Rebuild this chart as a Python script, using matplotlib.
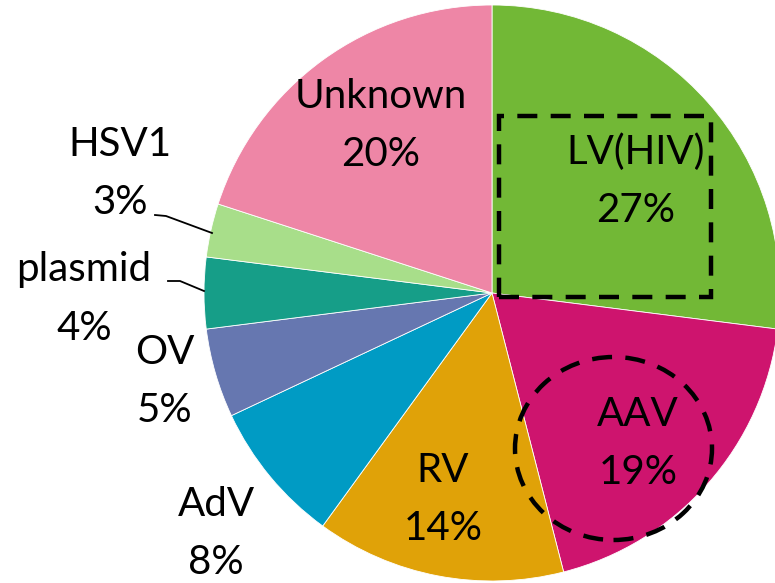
import matplotlib.pyplot as plt
from matplotlib.patches import Rectangle, Ellipse

# vector types, clockwise from 12 o'clock
labels = ['LV(HIV)', 'AAV', 'RV', 'AdV', 'OV', 'plasmid', 'HSV1', 'Unknown']
shares = [27, 19, 14, 8, 5, 4, 3, 20]
colors = ['#72B836', '#CE146E', '#E0A208', '#009BC4',
          '#6677B0', '#169E88', '#A8DE8A', '#EE86A6']

# label block centres in pixel coords (x, y from top)
label_pos = [(636, 181), (638, 443), (443, 500), (216, 534),
             (165, 381), (84, 299), (120, 174), (381, 126)]

W, H = 775, 583
fig = plt.figure(figsize=(W / 100, H / 100), dpi=100)
ax = fig.add_axes([0, 0, 1, 1])

cx, cy, r = 492, H - 293, 288
ax.pie(shares, colors=colors, startangle=90, counterclock=False,
       center=(cx, cy), radius=r, frame=True,
       wedgeprops=dict(edgecolor='white', linewidth=0.6))
ax.set_xlim(0, W)
ax.set_ylim(0, H)
ax.set_aspect('equal')
ax.axis('off')

font = 'Lato'
fs = 29
for name, val, (x, y) in zip(labels, shares, label_pos):
    ax.text(x, H - (y - 29), name, ha='center', va='center',
            fontsize=fs, family=font, color='black')
    ax.text(x, H - (y + 29), f'{val}%', ha='center', va='center',
            fontsize=fs, family=font, color='black')

# leader lines for the two thin slices
ax.plot([155, 166, 212], [H - 215, H - 216, H - 233], color='black', lw=1.3)
ax.plot([168, 180, 204], [H - 281, H - 281, H - 291], color='black', lw=1.3)

# dashed highlights
ax.add_patch(Rectangle((499, H - 297), 212, 181, fill=False, edgecolor='black',
                       lw=3.2, linestyle=(0, (4.5, 3))))
ax.add_patch(Ellipse((613.5, H - 448.5), 197, 183, fill=False, edgecolor='black',
                     lw=3.2, linestyle=(0, (4.5, 3))))

fig.savefig('out.png', dpi=100)
